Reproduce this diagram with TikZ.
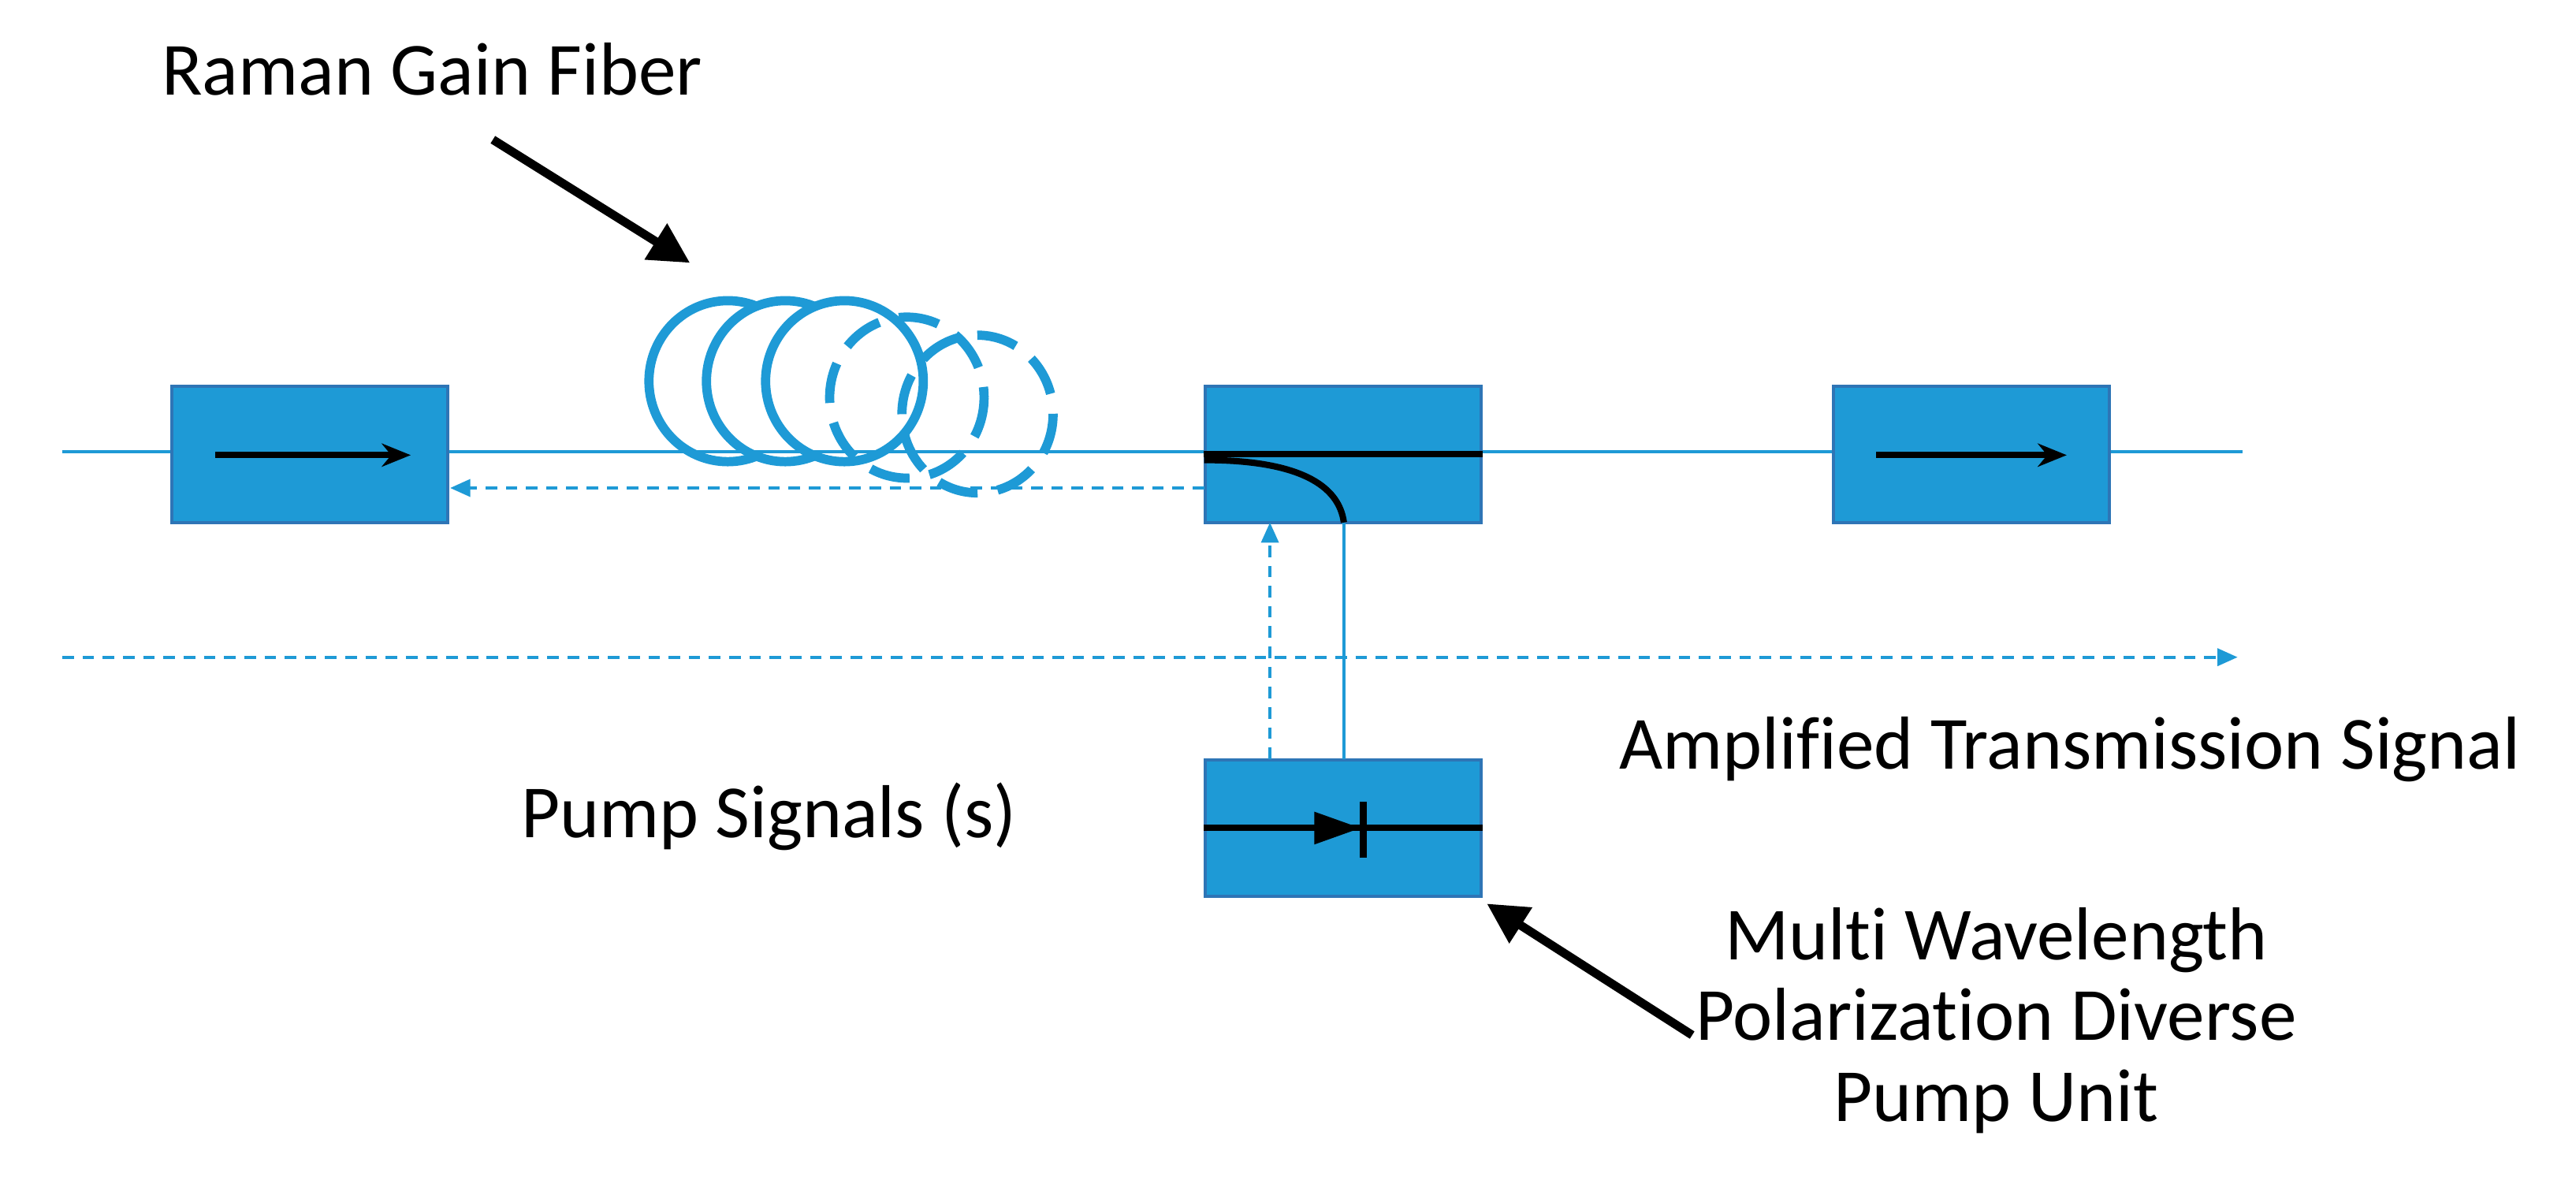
\documentclass[tikz,border=0pt]{standalone}
\usepackage{fontspec}
\setmainfont{Carlito}[Ligatures=NoCommon]
\usetikzlibrary{arrows.meta}
\definecolor{bfill}{HTML}{1E9AD6}
\definecolor{bdraw}{HTML}{2E75B6}
\definecolor{lb}{HTML}{1E9AD6}
\begin{document}
\begin{tikzpicture}[x=0.02cm,y=-0.02cm,
 box/.style={draw=bdraw,fill=bfill,line width=1pt,minimum width=3.36cm,minimum height=1.66cm,inner sep=0},
 thin/.style={lb,line width=1pt},
 dsh/.style={lb,line width=1pt,dash pattern=on 4pt off 3pt},
 coil/.style={lb,line width=3.2pt,fill=white},
 dcoil/.style={lb,line width=3.2pt,dash pattern=on 14pt off 7pt},
 blk/.style={line width=3pt,-{Triangle[length=14pt,width=14pt]}},
 lbl/.style={font=\fontsize{26}{31}\selectfont,align=center}]
\useasboundingbox (0,0) rectangle (1568,723);
% coils
\draw[coil] (443,232) ellipse (48 and 49);
\draw[coil] (478,232) ellipse (48 and 49);
\draw[coil] (514,232) ellipse (48 and 49);
\draw[dcoil] (552,242) ellipse (47 and 49);
\draw[dcoil] (595,252) ellipse (46 and 48);
\draw[thin] (38,275) -- (1365,275);
\node[box] (b1) at (188.5,276.5) {};
\node[box] (b2) at (817.5,276.5) {};
\node[box] (b3) at (1200,276.5) {};
\node[box] (b4) at (817.5,504) {};
\draw[line width=2.2pt,-{Stealth[length=10pt,width=8pt]}] (131,277) -- (250,277);
\draw[line width=2.2pt,-{Stealth[length=10pt,width=8pt]}] (1142,277) -- (1258,277);
\draw[line width=2.2pt] (b2.west) -- (b2.east);
\draw[line width=2.2pt] (733,280) .. controls (790,280) and (815,295) .. (818,318);
\draw[thin] (818,318) -- (818,462);
\draw[dsh,-{Triangle[length=7pt,width=6pt]}] (773,462) -- (773,318);
\draw[dsh,-{Triangle[length=7pt,width=6pt]}] (733,297) -- (274,297);
\draw[dsh,-{Triangle[length=7pt,width=6pt]}] (38,400) -- (1362,400);
% diode
\draw[line width=2.2pt] (b4.west) -- (b4.east);
\fill (800,494) -- (828,504) -- (800,514) -- cycle;
\draw[line width=2.5pt] (830,488) -- (830,522);
\node[lbl,anchor=base] (t1) at (263,58) {Raman Gain Fiber};
\node[lbl,anchor=base] (t2) at (468,510) {Pump Signals (s)};
\node[lbl,anchor=base] (t3) at (1260,468) {Amplified Transmission Signal};
\node[lbl,anchor=north] (t4) at (1215,546) {Multi Wavelength\\[-3pt]Polarization Diverse\\[-3pt]Pump Unit};
\draw[blk] (300,85) -- (420,160);
\draw[blk] (1030,630) -- (905,550);
\end{tikzpicture}
\end{document}
